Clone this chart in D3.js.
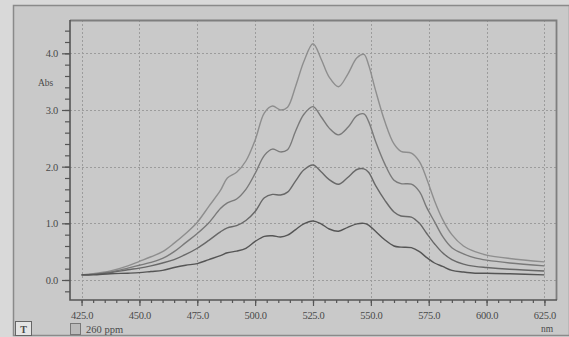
<!DOCTYPE html>
<html>
<head>
<meta charset="utf-8">
<script src="https://cdn.jsdelivr.net/npm/d3@7"></script>
<style>
  html, body { margin: 0; padding: 0; background: #d9d9d9; }
  svg { display: block; }
  text { font-family: "Liberation Serif", "DejaVu Serif", serif; fill: #4a4a4a; }
</style>
</head>
<body>
<svg id="chart" width="569" height="337"></svg>
<script>
// Wavelengths (nm) at which the absorbance spectra are sampled
const wavelengths = [425, 430, 437.5, 445, 450, 455, 460, 465, 470, 475, 480, 485, 488, 492, 496, 500,
  504, 507.5, 511, 514, 517.5, 521, 525, 528.5, 532, 536, 540, 544, 547, 549, 552, 556, 560, 563,
  567.5, 571, 574, 577.5, 581, 585, 590, 595, 600, 610, 625];

// Absorbance of the four spectra, highest first
const absA = [0.09, 0.11, 0.16, 0.25, 0.33, 0.41, 0.50, 0.65, 0.82, 1.02, 1.30, 1.58, 1.80, 1.90, 2.10, 2.47,
  2.95, 3.07, 3.00, 3.05, 3.42, 3.85, 4.17, 3.90, 3.58, 3.41, 3.63, 3.92, 3.98, 3.80, 3.35, 2.80, 2.40, 2.27,
  2.24, 2.09, 1.80, 1.40, 1.07, 0.80, 0.60, 0.50, 0.44, 0.38, 0.32];
const absB = [0.09, 0.10, 0.14, 0.21, 0.26, 0.31, 0.38, 0.50, 0.66, 0.82, 1.01, 1.26, 1.36, 1.43, 1.60, 1.88,
  2.20, 2.31, 2.26, 2.30, 2.63, 2.92, 3.06, 2.88, 2.68, 2.56, 2.69, 2.90, 2.93, 2.80, 2.45, 2.05, 1.76, 1.70,
  1.69, 1.56, 1.29, 1.03, 0.77, 0.57, 0.46, 0.39, 0.35, 0.30, 0.25];
const absC = [0.09, 0.10, 0.13, 0.18, 0.21, 0.25, 0.30, 0.36, 0.45, 0.56, 0.70, 0.85, 0.92, 0.96, 1.05, 1.21,
  1.45, 1.51, 1.50, 1.55, 1.75, 1.94, 2.03, 1.91, 1.77, 1.69, 1.81, 1.95, 1.96, 1.90, 1.67, 1.41, 1.20, 1.13,
  1.11, 1.00, 0.83, 0.64, 0.48, 0.36, 0.28, 0.24, 0.22, 0.19, 0.16];
const absD = [0.09, 0.09, 0.11, 0.12, 0.13, 0.15, 0.17, 0.22, 0.26, 0.29, 0.36, 0.43, 0.48, 0.51, 0.56, 0.68,
  0.77, 0.78, 0.76, 0.79, 0.89, 0.99, 1.04, 0.99, 0.90, 0.86, 0.93, 0.99, 1.00, 0.97, 0.86, 0.71, 0.60, 0.58,
  0.57, 0.50, 0.40, 0.30, 0.24, 0.17, 0.14, 0.12, 0.12, 0.11, 0.09];

const seriesList = [absA, absB, absC, absD];
const seriesColors = ["#8e8e8e", "#7a7a7a", "#686868", "#555555"];

const xTicks = [425, 450, 475, 500, 525, 550, 575, 600, 625];
const yTicks = [0, 1, 2, 3, 4];
const xLabel = "nm";
const yLabel = "Abs";
const legendLabel = "260 ppm";

const svg = d3.select("#chart");
const W = 569, H = 337;
const plot = { left: 70, top: 20, right: 556, bottom: 300 };

const x = d3.scaleLinear().domain([420, 630]).range([plot.left, plot.right]);
const y = d3.scaleLinear().domain([-0.353, 4.588]).range([plot.bottom, plot.top]);

// Outer panel
svg.append("rect")
  .attr("x", 13.5).attr("y", 5.5).attr("width", W - 13).attr("height", 330)
  .attr("fill", "#c9c9c9").attr("stroke", "#8a8a8a").attr("stroke-width", 1.5);

// Dotted grid at major ticks
const grid = svg.append("g").attr("stroke", "#9c9c9c").attr("stroke-width", 1)
  .attr("stroke-dasharray", "2,2");
grid.selectAll("line.gx").data(xTicks).join("line").attr("class", "gx")
  .attr("x1", d => Math.round(x(d)) + 0.5).attr("x2", d => Math.round(x(d)) + 0.5)
  .attr("y1", plot.top).attr("y2", plot.bottom);
grid.selectAll("line.gy").data(yTicks).join("line").attr("class", "gy")
  .attr("y1", d => Math.round(y(d)) + 0.5).attr("y2", d => Math.round(y(d)) + 0.5)
  .attr("x1", plot.left).attr("x2", plot.right);

// Frame: top and right in lighter grey
svg.append("path")
  .attr("d", `M${plot.left},${plot.top + 0.5}H${plot.right + 0.5}V${plot.bottom}`)
  .attr("fill", "none").attr("stroke", "#7e7e7e").attr("stroke-width", 1.8);

// Spectra
const line = d3.line()
  .x(d => x(d[0]))
  .y(d => y(d[1]))
  .curve(d3.curveCatmullRom.alpha(0.5));

svg.append("g").selectAll("path.spec")
  .data(seriesList)
  .join("path").attr("class", "spec")
  .attr("d", vals => line(wavelengths.map((w, i) => [w, vals[i]])))
  .attr("fill", "none")
  .attr("stroke", (d, i) => seriesColors[i])
  .attr("stroke-width", 1.4)
  .attr("stroke-linejoin", "round");

// Y axis with minor ticks every 0.2
const yMinor = d3.range(-0.2, 4.41, 0.2).map(v => +v.toFixed(1));
const yAxisMinor = d3.axisLeft(y).tickValues(yMinor).tickSize(5).tickFormat("");
const yAxisMajor = d3.axisLeft(y).tickValues(yTicks).tickSize(8).tickPadding(4)
  .tickFormat(d3.format(".1f"));

const gy1 = svg.append("g").attr("transform", `translate(${plot.left},0)`).call(yAxisMinor);
const gy2 = svg.append("g").attr("transform", `translate(${plot.left},0)`).call(yAxisMajor);
[gy1, gy2].forEach(g => {
  g.select(".domain").remove();
  g.selectAll(".tick line").attr("stroke", "#555").attr("stroke-width", 1.2);
});
gy2.selectAll(".tick text").attr("font-size", 10.5).attr("font-family", "Liberation Serif, serif")
  .attr("fill", "#4a4a4a").attr("letter-spacing", "-0.3");

// X axis with minor ticks every 5 nm
const xMinor = d3.range(425, 626, 5);
const xAxisMinor = d3.axisBottom(x).tickValues(xMinor).tickSize(3).tickFormat("");
const xAxisMajor = d3.axisBottom(x).tickValues(xTicks).tickSize(6).tickPadding(6)
  .tickFormat(d3.format(".1f"));
const gx1 = svg.append("g").attr("transform", `translate(0,${plot.bottom})`).call(xAxisMinor);
const gx2 = svg.append("g").attr("transform", `translate(0,${plot.bottom})`).call(xAxisMajor);
[gx1, gx2].forEach(g => {
  g.select(".domain").remove();
  g.selectAll(".tick line").attr("stroke", "#555").attr("stroke-width", 1.2);
});
gx2.selectAll(".tick text").attr("font-size", 10.5).attr("font-family", "Liberation Serif, serif")
  .attr("fill", "#4a4a4a").attr("letter-spacing", "-0.3");

// Axis lines: left and bottom in dark grey
svg.append("path")
  .attr("d", `M${plot.left},${plot.top}V${plot.bottom}H${plot.right + 1}`)
  .attr("fill", "none").attr("stroke", "#555").attr("stroke-width", 1.6);

// Axis titles
svg.append("text").attr("x", 38).attr("y", 86).attr("font-size", 9.5).text(yLabel);
svg.append("text").attr("x", 541).attr("y", 332).attr("font-size", 9.5).text(xLabel);

// Text-tool button
svg.append("rect").attr("x", 15.5).attr("y", 321.5).attr("width", 16).attr("height", 14)
  .attr("fill", "#e4e4e4").attr("stroke", "#666").attr("stroke-width", 1);
svg.append("text").attr("x", 23.5).attr("y", 332.5).attr("text-anchor", "middle")
  .attr("font-family", "DejaVu Sans, sans-serif").attr("font-weight", "bold")
  .attr("font-size", 10).attr("fill", "#333").text("T");

// Legend
svg.append("rect").attr("x", 70.5).attr("y", 323.5).attr("width", 10).attr("height", 11)
  .attr("fill", "#bababa").attr("stroke", "#777");
svg.append("text").attr("x", 86).attr("y", 333).attr("font-size", 10.5).text(legendLabel);
</script>
</body>
</html>
